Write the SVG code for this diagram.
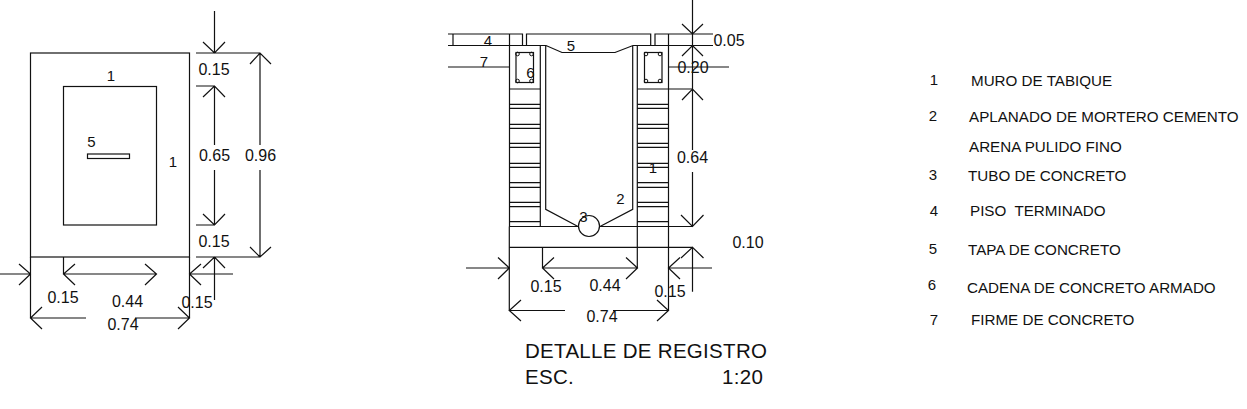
<svg xmlns="http://www.w3.org/2000/svg" width="1247" height="409" viewBox="0 0 1247 409">
<style>
.l{fill:none;stroke:#111;stroke-width:1.2}
.c{fill:#fff;stroke:#111;stroke-width:1.2}
.r{fill:none;stroke:#111;stroke-width:1}
text{font-family:"Liberation Sans",Arial,sans-serif;fill:#111;white-space:pre}
.d{font-size:16px;text-anchor:middle}
.n{font-size:15px;text-anchor:middle}
.t{font-size:15.200px}
.h{font-size:20.500px;letter-spacing:.3px}
</style>
<rect width="1247" height="409" fill="#fff"/>
<g id="plan">
<rect class="l" x="30.5" y="53" width="159" height="204"/>
<rect class="l" x="63.5" y="86.5" width="93" height="138.5"/>
<rect class="l" x="87.5" y="154" width="42" height="4.5"/>
<text class="n" x="111" y="81">1</text>
<text class="n" x="91.500" y="147">5</text>
<text class="n" x="173" y="167">1</text>
</g>
<g id="section">
<path class="l" d="M448 34H522.500V45.500M453 34V45.500M448 45.500H546L562 52.500H615L633 45.500H713M526.500 45.500V34H650.700V45.500M655 45.500V34H713M448 67H509.500M509.500 34V226.500M540.300 45.500V226.500M545.700 45.500V209.300L578 226.500M632.700 45.500V209.300L600 226.500M637.300 45.500V268M668.500 34V310.500M509.300 226.500V310.500"/>
<path class="l" d="M509.500 89H540.300M509.500 104.300H540.300M509.500 108.300H540.300M509.500 124.300H540.300M509.500 128.300H540.300M509.500 143.300H540.300M509.500 147.300H540.300M509.500 163.300H540.300M509.500 167.300H540.300M509.500 182.700H540.300M509.500 187.300H540.300M509.500 202.300H540.300M509.500 206.700H540.300M509.500 221.700H540.300"/>
<path class="l" d="M637.300 89H692.500M637.300 104.300H668.500M637.300 108.300H668.500M637.300 124.300H668.500M637.300 128.300H668.500M637.300 143.300H668.500M637.300 147.300H668.500M637.300 163.300H668.500M637.300 167.300H668.500M637.300 182.700H668.500M637.300 187.300H668.500M637.300 202.300H668.500M637.300 206.700H668.500M637.300 221.700H668.500"/>
<path class="l" d="M509.300 226.500H578M600 226.500H692.500M509.300 247.300H692.500"/>
<circle class="c" cx="589" cy="226" r="10.500"/>
<rect class="l" x="516" y="52.500" width="17.500" height="30"/>
<rect class="l" x="644.500" y="52.500" width="17.500" height="30"/>
<g class="r">
<circle cx="517.500" cy="54" r="1.800"/><circle cx="531.500" cy="54" r="1.800"/><circle cx="517.500" cy="81" r="1.800"/><circle cx="531.500" cy="81" r="1.800"/>
<circle cx="646" cy="54" r="1.800"/><circle cx="660" cy="54" r="1.800"/><circle cx="646" cy="81" r="1.800"/><circle cx="660" cy="81" r="1.800"/>
</g>
<text class="n" x="488" y="46">4</text>
<text class="n" x="484" y="67">7</text>
<text class="n" x="571" y="51">5</text>
<text class="n" x="530.500" y="78">6</text>
<text class="n" x="653" y="173">1</text>
<text class="n" x="620.500" y="204">2</text>
<text class="n" x="583.500" y="222">3</text>
</g>
<g id="connectors">
<path class="l" d="M214.500 11V53M203 42L214.500 53L225 42M196 53H260M250 64L260 53L271 64M260 53V145M260 170V257M250 247L260 257L271 247M196 257H260M196 86H214.500M203 97L214.500 86L225 97M214.500 86V145M214.500 170V225M203 214L214.500 225L225 214M196 225H214.500M203 268L214.500 257L225 268M214.500 257V300"/>
<path class="l" d="M0 274H30.500M19 264L30.500 274L19 285M30.500 257V318M63.500 257V274M75 264L63.500 274L75 285M63.500 274H156.500M145 264L156.500 274L145 285M201 264L189.500 274L201 285M189.500 274H233M189.500 257V318M30.500 318H86M135 318H189.500M42 307L30.500 318L42 329M178 307L189.500 318L178 329"/>
<path class="l" d="M692.500 0V150M682 24L692.500 34L703 24M682 56L692.500 45.500L703 56M668.500 67H729M682 100L692.500 89L703 100M692.500 172V226.500M681 215L692.500 226.500L703.500 215M681 258L692.500 247.300L703.500 258M692.500 247.300V291.700"/>
<path class="l" d="M466 268H509.300M498 257.500L509.300 268L498 279M542.500 247.300V268M554 257.500L542.500 268L554 279M542.500 268H637.500M626 257.500L637.500 268L626 279M680 257.500L668.500 268L680 279M668.500 268H712M509.300 310.500H565M613 310.500H668.500M521 300L509.300 310.500L521 321M657 300L668.500 310.500L657 321"/>
</g>
<g id="dimensions">
<text class="d" x="214" y="75">0.15</text>
<text class="d" x="214.500" y="161">0.65</text>
<text class="d" x="260.500" y="161">0.96</text>
<text class="d" x="214" y="247">0.15</text>
<text class="d" x="63" y="303">0.15</text>
<text class="d" x="127.500" y="307">0.44</text>
<text class="d" x="197" y="308">0.15</text>
<text class="d" x="123" y="330">0.74</text>
<text class="d" x="729" y="46">0.05</text>
<text class="d" x="693" y="73">0.20</text>
<text class="d" x="692.500" y="163">0.64</text>
<text class="d" x="748" y="248">0.10</text>
<text class="d" x="546" y="292">0.15</text>
<text class="d" x="605" y="291">0.44</text>
<text class="d" x="670" y="297">0.15</text>
<text class="d" x="602" y="322">0.74</text>
</g>
<g id="legend">
<text class="n" x="934" y="85">1</text><text class="t" x="971" y="86">MURO DE TABIQUE</text>
<text class="n" x="933" y="121">2</text><text class="t" x="969" y="122">APLANADO DE MORTERO CEMENTO</text>
<text class="t" x="969" y="152">ARENA PULIDO FINO</text>
<text class="n" x="933" y="180">3</text><text class="t" x="968" y="181">TUBO DE CONCRETO</text>
<text class="n" x="934" y="216">4</text><text class="t" x="970" y="216">PISO  TERMINADO</text>
<text class="n" x="933" y="254">5</text><text class="t" x="968" y="255">TAPA DE CONCRETO</text>
<text class="n" x="932" y="290">6</text><text class="t" x="967" y="293">CADENA DE CONCRETO ARMADO</text>
<text class="n" x="934" y="325">7</text><text class="t" x="971" y="325">FIRME DE CONCRETO</text>
</g>
<g id="title">
<text class="h" x="525" y="358">DETALLE DE REGISTRO</text>
<text class="h" x="525" y="384">ESC.</text>
<text class="h" x="722" y="384">1:20</text>
</g>
</svg>
